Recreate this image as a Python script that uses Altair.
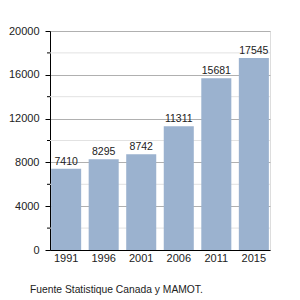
import altair as alt
import pandas as pd

years = ["1991", "1996", "2001", "2006", "2011", "2015"]
values = [7410, 8295, 8742, 11311, 15681, 17545]
major_ticks = [0, 4000, 8000, 12000, 16000, 20000]
minor_ticks = [2000, 6000, 10000, 14000, 18000]
source = "Fuente Statistique Canada y MAMOT."

df = pd.DataFrame({"year": years, "value": values})
minor_df = pd.DataFrame({"value": minor_ticks})

FONT = "Liberation Sans"
W, H = 220, 219

yscale = alt.Scale(domain=[0, 20000], nice=False)
yaxis = alt.Axis(values=major_ticks, format="d", labelFont=FONT, labelFontSize=11,
                 labelColor="#222222", domainColor="#000000",
                 tickColor="#000000", tickSize=5, labelPadding=6,
                 gridColor="#b0b0b0", grid=True, title=None)
xaxis = alt.Axis(labelAngle=0, labelFont=FONT, labelFontSize=11,
                 labelColor="#222222", domainColor="#000000",
                 ticks=False, labelPadding=2, title=None)
xscale = alt.Scale(paddingInner=0.2, paddingOuter=0.03)

minor_grid = alt.Chart(minor_df).mark_rule(color="#e2e2e2", strokeWidth=1).encode(
    y=alt.Y("value:Q", scale=yscale, axis=yaxis),
    x=alt.value(0), x2=alt.value(W),
)
minor_tick = alt.Chart(minor_df).mark_rule(color="#000000", strokeWidth=1).encode(
    y=alt.Y("value:Q", scale=yscale, axis=yaxis),
    x=alt.value(-3), x2=alt.value(0),
)

bars = alt.Chart(df).mark_bar(color="#9bb2cf").encode(
    x=alt.X("year:N", sort=years, scale=xscale, axis=xaxis),
    y=alt.Y("value:Q", scale=yscale, axis=yaxis),
)

labels = alt.Chart(df).mark_text(baseline="bottom", dy=-2, font=FONT, fontSize=10.5,
                                 color="#222222").encode(
    x=alt.X("year:N", sort=years, scale=xscale, axis=xaxis),
    y=alt.Y("value:Q", scale=yscale, axis=yaxis),
    text=alt.Text("value:Q", format="d"),
)

footer = alt.Chart(pd.DataFrame({"t": [source]})).mark_text(
    align="left", baseline="middle", font=FONT, fontSize=10.3, color="#222222"
).encode(x=alt.value(-20), y=alt.value(H + 40), text="t:N")

chart = alt.layer(minor_grid, bars, minor_tick, labels, footer).properties(
    width=W, height=H,
    autosize=alt.AutoSizeParams(type="none"),
    padding={"left": 50, "top": 31, "right": 30, "bottom": 50},
).configure_view(stroke=None).configure(background="white")

chart.save("out.html", embed_options={"renderer": "svg", "actions": False})
